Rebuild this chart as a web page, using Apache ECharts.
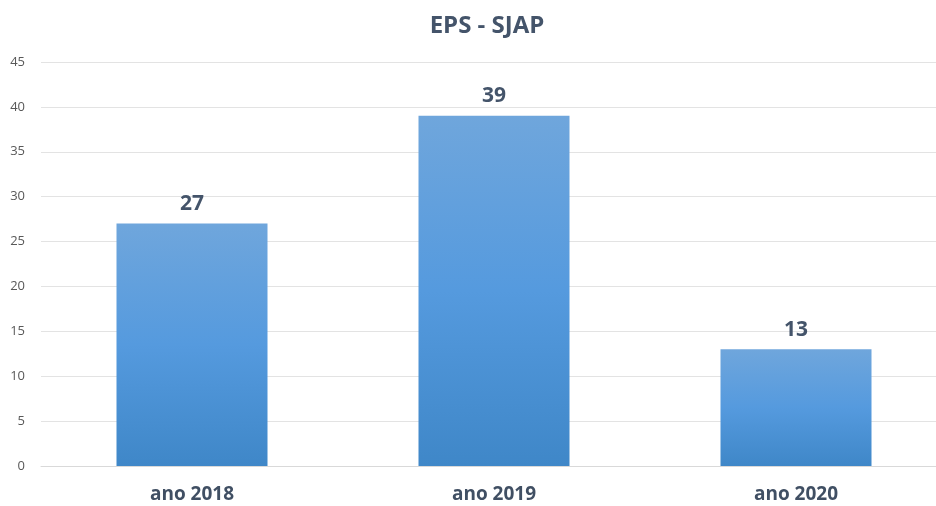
<!DOCTYPE html>
<html>
<head>
<meta charset="utf-8">
<script src="https://cdn.jsdelivr.net/npm/echarts@6/dist/echarts.min.js"></script>
<style>
  html, body { margin: 0; padding: 0; background: #fff; }
  #chart { width: 936px; height: 506px; }
</style>
</head>
<body>
<div id="chart"></div>
<script>
// 数据
const categories = ['ano 2018', 'ano 2019', 'ano 2020'];
const values = [27, 39, 13];
const yTicks = [0, 5, 10, 15, 20, 25, 30, 35, 40, 45];

const chart = echarts.init(document.getElementById('chart'));

const option = {
  animation: false,
  title: {
    text: 'EPS - SJAP',
    left: 482,
    top: 9,
    textAlign: 'center',
    textStyle: { fontFamily: 'Open Sans', fontSize: 24, fontWeight: 'bold', color: '#44546a' }
  },
  // 绘图区向右超出画布一点，和原图一致
  grid: { left: 41, width: 906, top: 62, bottom: 40, containLabel: false, outerBoundsMode: 'none' },
  xAxis: {
    type: 'category',
    data: categories,
    axisTick: { show: false },
    axisLine: { lineStyle: { color: '#d9d9d9' } },
    axisLabel: {
      margin: 19,
      fontFamily: 'Open Sans', fontSize: 19, fontWeight: 'bold', color: '#404f63'
    }
  },
  yAxis: {
    type: 'value',
    min: yTicks[0],
    max: yTicks[yTicks.length - 1],
    interval: 5,
    axisLine: { show: false },
    axisTick: { show: false },
    splitLine: { lineStyle: { color: '#e3e3e3' } },
    axisLabel: { margin: 16, fontFamily: 'Open Sans', fontSize: 13, color: '#595959' }
  },
  series: [
    {
      type: 'bar',
      data: values,
      barWidth: '50%',
      itemStyle: {
        color: new echarts.graphic.LinearGradient(0, 0, 0, 1, [
          { offset: 0, color: '#6fa6dc' },
          { offset: 0.5, color: '#559ade' },
          { offset: 1, color: '#3f87c8' }
        ])
      },
      label: {
        show: true,
        position: 'top',
        distance: 9,
        fontFamily: 'Open Sans', fontSize: 21, fontWeight: 'bold', color: '#44546a'
      }
    }
  ]
};

chart.setOption(option);
</script>
</body>
</html>
